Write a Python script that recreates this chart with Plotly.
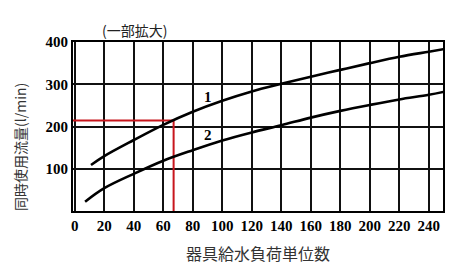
import plotly.graph_objects as go

# Curve 1
x1 = [11, 20, 40, 60, 80, 100, 120, 140, 160, 180, 200, 220, 240, 250]
y1 = [109, 130, 168, 204, 235, 261, 283, 301, 318, 334, 350, 365, 377, 383]
# Curve 2
x2 = [7, 20, 40, 60, 80, 100, 120, 140, 160, 180, 200, 220, 240, 250]
y2 = [22, 54, 88, 119, 144, 167, 186, 203, 221, 237, 251, 264, 275, 282]
# Reading example (red guide)
read_x = 67
read_y = 214

x_ticks = list(range(0, 241, 20))
y_ticks = [100, 200, 300, 400]

title_text = "(一部拡大)"
x_title = "器具給水負荷単位数"
y_title = "同時使用流量(l/min)"

SERIF = "Liberation Serif"
CJK = "Noto Sans CJK JP"

fig = go.Figure()
fig.add_trace(go.Scatter(x=[-1.2, read_x, read_x], y=[read_y, read_y, 0], mode="lines",
                         line=dict(color="#c8161d", width=2), hoverinfo="skip"))
fig.add_trace(go.Scatter(x=x1, y=y1, mode="lines",
                         line=dict(color="black", width=2.6, shape="spline", smoothing=1.0),
                         hoverinfo="skip"))
fig.add_trace(go.Scatter(x=x2, y=y2, mode="lines",
                         line=dict(color="black", width=2.6, shape="spline", smoothing=1.0),
                         hoverinfo="skip"))

fig.add_annotation(x=90, y=271, text="<b>1</b>", showarrow=False,
                   font=dict(family=SERIF, size=15, color="black"))
fig.add_annotation(x=90, y=180, text="<b>2</b>", showarrow=False,
                   font=dict(family=SERIF, size=15, color="black"))
fig.add_annotation(x=(134 - 73) / 370, y=1 + (42 - 30) / 169, xref="paper", yref="paper",
                   xanchor="center", yanchor="middle",
                   text=title_text, showarrow=False,
                   font=dict(family=CJK, size=14, color="#222"))
fig.add_annotation(x=(20 - 73) / 370, y=(211 - 147) / 169, xref="paper", yref="paper",
                   xanchor="center", yanchor="middle", textangle=-90,
                   text=y_title, showarrow=False,
                   font=dict(family=CJK, size=14, color="#333"))

fig.update_layout(
    width=461, height=275,
    margin=dict(l=73, r=18, t=42, b=64),
    paper_bgcolor="white", plot_bgcolor="white",
    showlegend=False,
    xaxis=dict(range=[-1.2, 249.6], tickvals=x_ticks, ticktext=[str(v) for v in x_ticks],
               showgrid=True, gridcolor="#111", gridwidth=1.5, zeroline=False,
               showline=True, linecolor="black", linewidth=2, mirror=True, ticks="",
               tickfont=dict(family=SERIF, size=15, color="black", weight="bold"),
               title=dict(text=x_title, font=dict(family=CJK, size=16, color="#333"), standoff=16)),
    yaxis=dict(range=[0, 400], tickvals=y_ticks, ticktext=[str(v) for v in y_ticks],
               showgrid=True, gridcolor="#111", gridwidth=1.5, zeroline=False,
               showline=True, linecolor="black", linewidth=2, mirror=True, ticks="",
               tickfont=dict(family=SERIF, size=15, color="black", weight="bold")),
)

fig.write_html("out.html")
